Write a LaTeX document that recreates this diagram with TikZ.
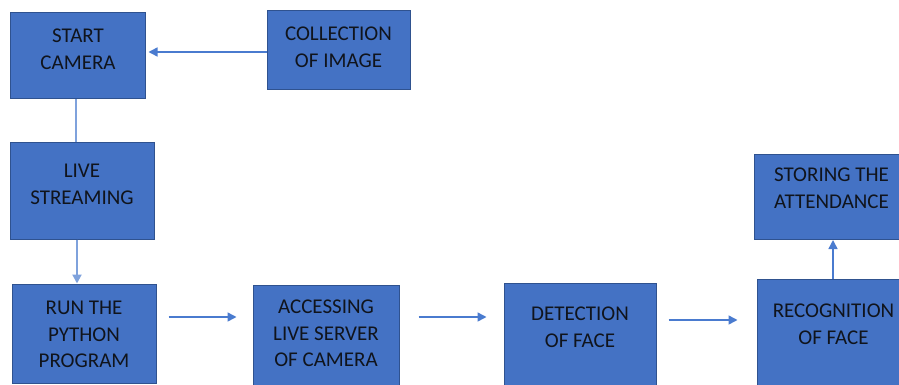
\documentclass[tikz,border=0pt]{standalone}
\usepackage{fontspec}
\setmainfont{Carlito}
\usetikzlibrary{arrows.meta}
\definecolor{boxfill}{HTML}{4472C4}
\definecolor{boxline}{HTML}{2F528F}
\definecolor{arrowc}{HTML}{4A7BCF}
\definecolor{lightc}{HTML}{7FA2DC}
\definecolor{txtc}{HTML}{10141C}
\tikzset{
  box/.style={draw=boxline, fill=boxfill, line width=1pt, rectangle, inner sep=0pt},
  txt/.style={text=txtc, font=\fontsize{21}{26.5}\selectfont, align=center, inner sep=0pt, anchor=north},
  conn/.style={draw=arrowc, line width=1.5pt},
  arr/.style={conn, -{Triangle[length=9pt, width=9pt]}}
}
\begin{document}
\begin{tikzpicture}[x=1pt, y=-1pt]
\useasboundingbox (0,0) rectangle (899,385);
% boxes
\node[box, minimum width=135pt, minimum height=86pt] (start) at (77.5,56) {};
\node[box, minimum width=143pt, minimum height=79pt] (coll) at (338.5,50.5) {};
\node[box, minimum width=144pt, minimum height=97pt] (live) at (82,190.5) {};
\node[box, minimum width=144pt, minimum height=99pt] (run) at (84,333.5) {};
\node[box, minimum width=146pt, minimum height=110pt] (acc) at (326,340) {};
\node[box, minimum width=152pt, minimum height=110pt] (det) at (580,338) {};
\node[box, minimum width=153pt, minimum height=115pt] (rec) at (833.5,336.5) {};
\node[box, minimum width=156pt, minimum height=85pt] (store) at (832,197) {};
% texts
\node[txt] (tstart) at (78,29) {START\\CAMERA};
\node[txt] (tcoll) at (338.5,27) {COLLECTION\\OF IMAGE};
\node[txt] (tlive) at (82,164) {LIVE\\STREAMING};
\node[txt] (trun) at (84,301) {RUN THE\\PYTHON\\PROGRAM};
\node[txt] (tacc) at (326,300) {ACCESSING\\LIVE SERVER\\OF CAMERA};
\node[txt] (tdet) at (580,307) {DETECTION\\OF FACE};
\node[txt] (trec) at (833.5,304) {RECOGNITION\\OF FACE};
\node[txt] (tstore) at (831.5,168) {STORING THE\\ATTENDANCE};
% connectors
\draw[arr, shorten >=3pt] ([yshift=-1.5pt]coll.west) -- ([yshift=4pt]start.east);
\draw[conn, draw=lightc, line width=2pt] ([xshift=-1.5pt]start.south) -- ([xshift=-6pt]live.north);
\draw[arr, draw=lightc, fill=arrowc, line width=2pt] ([xshift=-5pt]live.south) -- ([xshift=-7pt]run.north);
\draw[arr, shorten <=12pt, shorten >=16pt] ([yshift=16.5pt]run.east) -- ([yshift=23pt]acc.west);
\draw[arr, shorten <=19pt, shorten >=17pt] ([yshift=23pt]acc.west -| acc.east) -- ([yshift=21pt]det.west);
\draw[arr, shorten <=12pt, shorten >=19pt] ([yshift=18pt]det.east) -- ([yshift=16.5pt]rec.west);
\draw[arr] ([xshift=-0.5pt]rec.north) -- ([xshift=1pt]store.south);
\end{tikzpicture}
\end{document}
